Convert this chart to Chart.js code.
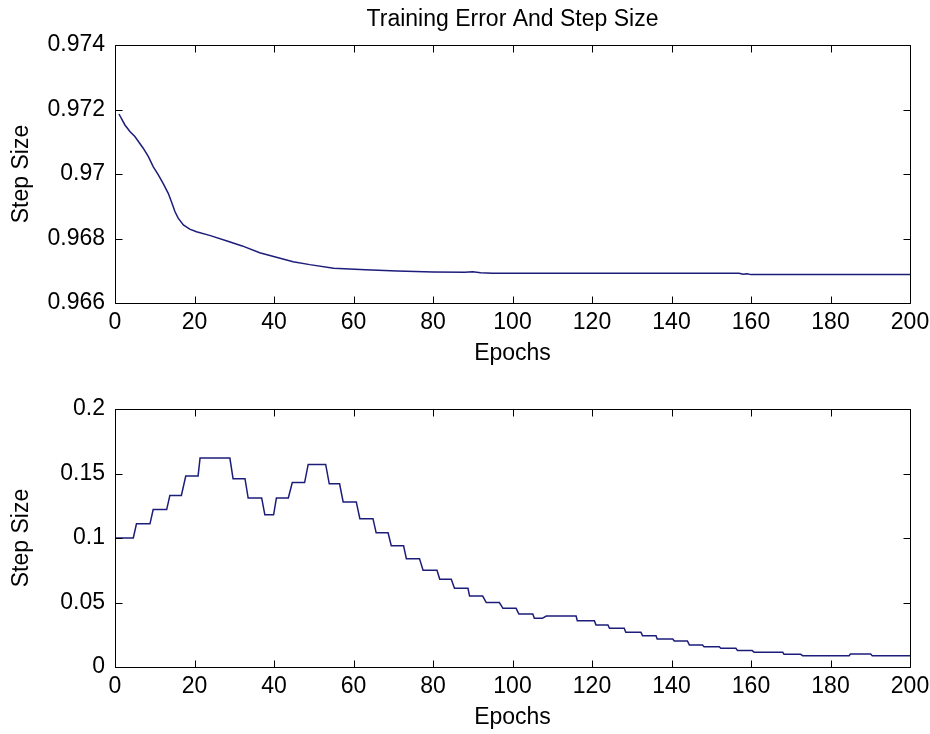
<!DOCTYPE html>
<html>
<head>
<meta charset="utf-8">
<script src="https://cdn.jsdelivr.net/npm/chart.js@4.4.1/dist/chart.umd.min.js"></script>
<style>
    body { margin: 0; background: #fff; }
    canvas { position: absolute; left: 0; }
    #errorChart { top: 0; }
    #stepChart { top: 370px; }
</style>
</head>
<body>
<canvas id="errorChart" width="930" height="370"></canvas>
<canvas id="stepChart" width="930" height="364"></canvas>
<script>
// top panel: readings of the first curve
var errorEpochs = [1, 2.5, 3.8, 5, 7.1, 8.4, 9.6, 10.9, 12.1, 13.4, 14.2, 15.1, 15.9, 17.2, 18.8,
    20.5, 24, 28, 32, 36.4, 40.6, 44.8, 49, 55, 63, 71, 80, 88, 90, 92, 95, 120, 157, 158, 159,
    160, 180, 200];
var errorValues = [0.97186, 0.97152, 0.97131, 0.97116, 0.97080, 0.97054, 0.97023, 0.96997, 0.96971,
    0.96940, 0.96914, 0.96883, 0.96863, 0.96842, 0.96829, 0.96821, 0.96809, 0.96793, 0.96777,
    0.96756, 0.96742, 0.96728, 0.96719, 0.96708, 0.96703, 0.96699, 0.96696, 0.96695, 0.96697,
    0.96694, 0.96692, 0.96692, 0.96692, 0.96689, 0.96691, 0.96688, 0.96688, 0.96688];

// bottom panel: staircase, each step has a start epoch, end epoch and a level
var stepStart = [0, 5.4, 9.6, 13.8, 17.8, 21.4, 29.7, 33.5, 37.7, 40.6, 44.6, 48.6, 53.9, 57.4,
    61.6, 65.7, 69.5, 73.3, 77.5, 81.7, 85.4, 89.2, 93.4, 97.6, 101.6, 105.5, 108.5, 116.3, 121,
    124.4, 128.5, 132.7, 136.4, 140.7, 144.5, 148.2, 152.4, 156.6, 160.8, 168.3, 173, 185, 190.5];
var stepEnd = [4.6, 8.8, 13, 16.7, 20.9, 28.9, 32.7, 36.9, 39.9, 43.6, 47.7, 53, 56.5, 60.7,
    64.9, 68.7, 72.6, 76.6, 81, 84.6, 88.8, 92.5, 96.7, 100.9, 105.1, 107.5, 116, 120.6, 124,
    128.1, 132.3, 136.1, 140.3, 144, 147.8, 152, 156.2, 160.3, 168, 172.5, 184.7, 190.1, 200];
var stepLevel = [0.100, 0.111, 0.122, 0.133, 0.148, 0.162, 0.146, 0.131, 0.118, 0.131, 0.143,
    0.157, 0.142, 0.128, 0.115, 0.104, 0.094, 0.084, 0.075, 0.068, 0.061, 0.055, 0.050, 0.0455,
    0.041, 0.0377, 0.0395, 0.0359, 0.0326, 0.030, 0.0269, 0.0243, 0.0217, 0.0202, 0.017, 0.0157,
    0.0145, 0.0127, 0.0114, 0.0098, 0.0088, 0.0101, 0.0088];

var xTicks = { min: 0, max: 200, step: 20 };
var errorTicks = { min: 0.966, max: 0.974, step: 0.002 };
var stepTicks = { min: 0, max: 0.2, step: 0.05 };

var FONT = { family: "'Liberation Sans', Arial, sans-serif", size: 23, lineHeight: 1.2 };
var LINE_COLOR = '#1c1c7a';

// matlab style axes: black box with inward ticks on all four sides
var matlabBox = {
    id: 'matlabBox',
    afterDatasetsDraw: function (chart) {
        var ctx = chart.ctx;
        var a = chart.chartArea;
        var xs = chart.scales.x;
        var ys = chart.scales.y;
        var L = Math.round(a.left) + 0.5, R = Math.round(a.right) + 0.5;
        var T = Math.round(a.top) + 0.5, B = Math.round(a.bottom) + 0.5;
        var len = 7;
        ctx.save();
        ctx.strokeStyle = '#000';
        ctx.lineWidth = 1;
        ctx.beginPath();
        ctx.rect(L, T, R - L, B - T);
        xs.ticks.forEach(function (t) {
            var px = Math.round(xs.getPixelForValue(t.value)) + 0.5;
            ctx.moveTo(px, B); ctx.lineTo(px, B - len);
            ctx.moveTo(px, T); ctx.lineTo(px, T + len);
        });
        ys.ticks.forEach(function (t) {
            var py = Math.round(ys.getPixelForValue(t.value)) + 0.5;
            ctx.moveTo(L, py); ctx.lineTo(L + len, py);
            ctx.moveTo(R, py); ctx.lineTo(R - len, py);
        });
        ctx.stroke();
        ctx.restore();
    }
};

function fmt(v) {
    return parseFloat(v.toFixed(4)).toString();
}

function makeChart(id, points, yRange, title, topPad) {
    var ctx = document.getElementById(id).getContext('2d');
    return new Chart(ctx, {
        type: 'line',
        data: {
            datasets: [{
                data: points,
                borderColor: LINE_COLOR,
                borderWidth: 1.5,
                pointRadius: 0,
                tension: 0,
                fill: false
            }]
        },
        options: {
            responsive: false,
            animation: false,
            layout: { padding: { left: 0, right: 20, top: topPad, bottom: 3 } },
            scales: {
                x: {
                    type: 'linear',
                    min: xTicks.min,
                    max: xTicks.max,
                    grid: { display: false, drawTicks: false },
                    border: { display: false },
                    ticks: { stepSize: xTicks.step, color: '#000', font: FONT, padding: 6, maxRotation: 0 },
                    title: { display: true, text: 'Epochs', color: '#000', font: FONT, padding: 0 },
                    afterFit: function (scale) {
                        scale.height = 64;
                        scale.paddingLeft = 0;
                        scale.paddingRight = 0;
                    }
                },
                y: {
                    min: yRange.min,
                    max: yRange.max,
                    grid: { display: false, drawTicks: false },
                    border: { display: false },
                    ticks: {
                        stepSize: yRange.step, color: '#000', font: FONT, padding: 10,
                        callback: function (v) { return fmt(v); }
                    },
                    title: { display: true, text: 'Step Size', color: '#000', font: FONT, padding: { top: 8, bottom: 0 } },
                    afterFit: function (scale) { scale.width = 115; }
                }
            },
            plugins: {
                legend: { display: false },
                tooltip: { enabled: false },
                title: {
                    display: !!title,
                    text: title,
                    color: '#000',
                    fullSize: false,
                    font: { family: FONT.family, size: 23, weight: 'normal', lineHeight: 1.2 },
                    padding: { top: 6, bottom: 11.4 }
                }
            }
        },
        plugins: [matlabBox]
    });
}

var errorPoints = errorEpochs.map(function (e, i) {
    return { x: e, y: errorValues[i] };
});

var stepPoints = [];
stepStart.forEach(function (s, i) {
    stepPoints.push({ x: s, y: stepLevel[i] });
    stepPoints.push({ x: stepEnd[i], y: stepLevel[i] });
});

makeChart('errorChart', errorPoints, errorTicks, 'Training Error And Step Size', 0);
makeChart('stepChart', stepPoints, stepTicks, '', 39);
</script>
</body>
</html>
